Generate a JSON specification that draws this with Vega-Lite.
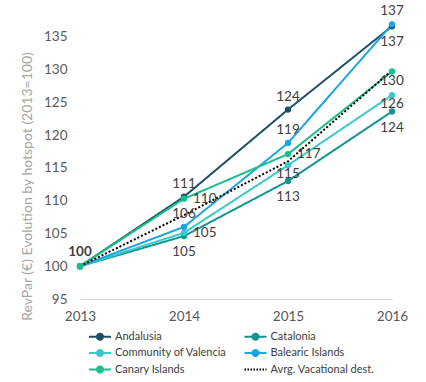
{
  "$schema": "https://vega.github.io/schema/vega-lite/v6.json",
  "width": 312,
  "height": 295,
  "autosize": {"type": "none"},
  "padding": {"left": 80, "top": 4, "right": 34, "bottom": 83},
  "background": "white",
  "config": {
    "font": "Lato",
    "view": {"stroke": null},
    "axis": {"grid": false, "ticks": false, "labelFont": "Lato", "labelColor": "#595959", "labelFontSize": 13.5}
  },
  "data": {
    "values": [
      {"series": "Andalusia", "year": 2013, "value": 100},
      {"series": "Andalusia", "year": 2014, "value": 110.6},
      {"series": "Andalusia", "year": 2015, "value": 123.9},
      {"series": "Andalusia", "year": 2016, "value": 136.6},
      {"series": "Catalonia", "year": 2013, "value": 100},
      {"series": "Catalonia", "year": 2014, "value": 104.6},
      {"series": "Catalonia", "year": 2015, "value": 113.0},
      {"series": "Catalonia", "year": 2016, "value": 123.6},
      {"series": "Community of Valencia", "year": 2013, "value": 100},
      {"series": "Community of Valencia", "year": 2014, "value": 105.1},
      {"series": "Community of Valencia", "year": 2015, "value": 115.4},
      {"series": "Community of Valencia", "year": 2016, "value": 126.1},
      {"series": "Balearic Islands", "year": 2013, "value": 100},
      {"series": "Balearic Islands", "year": 2014, "value": 106.0},
      {"series": "Balearic Islands", "year": 2015, "value": 118.8},
      {"series": "Balearic Islands", "year": 2016, "value": 136.9},
      {"series": "Canary Islands", "year": 2013, "value": 100},
      {"series": "Canary Islands", "year": 2014, "value": 110.3},
      {"series": "Canary Islands", "year": 2015, "value": 117.1},
      {"series": "Canary Islands", "year": 2016, "value": 129.7},
      {"series": "Avrg. Vacational dest.", "year": 2013, "value": 100},
      {"series": "Avrg. Vacational dest.", "year": 2014, "value": 107.8},
      {"series": "Avrg. Vacational dest.", "year": 2015, "value": 116.0},
      {"series": "Avrg. Vacational dest.", "year": 2016, "value": 129.9}
    ]
  },
  "encoding": {
    "x": {
      "field": "year", "type": "quantitative",
      "scale": {"domain": [2013, 2016], "nice": false, "zero": false},
      "axis": {"values": [2013, 2014, 2015, 2016], "format": "d", "title": null, "domain": true, "domainColor": "#d9d9d9", "domainWidth": 1, "labelPadding": 10, "labelFlush": false}
    },
    "y": {
      "field": "value", "type": "quantitative",
      "scale": {"domain": [95, 140], "nice": false, "zero": false},
      "axis": {"values": [95, 100, 105, 110, 115, 120, 125, 130, 135], "domain": false, "labelPadding": 13,
        "title": "RevPar (€) Evolution by hotspot (2013=100)",
        "titleFont": "Lato", "titleFontWeight": "normal", "titleFontSize": 14, "titleColor": "#a6a6a6",
        "titleX": -53, "titleY": 182, "titleAlign": "center", "titleBaseline": "middle", "titleAngle": 270}
    }
  },
  "layer": [
    {
      "mark": {"type": "line", "strokeWidth": 2},
      "encoding": {
        "color": {
          "field": "series", "type": "nominal",
          "scale": {
            "domain": ["Andalusia", "Community of Valencia", "Canary Islands", "Catalonia", "Balearic Islands", "Avrg. Vacational dest."],
            "range": ["#1b4f64", "#38c9cb", "#16c08b", "#12958f", "#1aa6e0", "#000000"]
          },
          "legend": {
            "title": null, "orient": "none", "legendX": 13.5, "legendY": 326,
            "columns": 2, "columnPadding": 12.5, "rowPadding": 1.5,
            "labelFont": "Lato", "labelFontSize": 11, "labelColor": "#404040", "labelOffset": 8.5,
            "symbolSize": 121, "symbolStrokeWidth": 2,
            "symbolType": "M-2,0H2M0.55,0A0.55,0.55,0,1,1,-0.55,0A0.55,0.55,0,1,1,0.55,0",
            "encode": {
              "symbols": {
                "update": {
                  "stroke": {"scale": "color", "field": "value"},
                  "fill": {"signal": "datum.value === 'Avrg. Vacational dest.' ? 'transparent' : scale('color', datum.value)"},
                  "shape": {"signal": "datum.value === 'Avrg. Vacational dest.' ? 'M-2,0H2' : 'M-2,0H2M0.55,0A0.55,0.55,0,1,1,-0.55,0A0.55,0.55,0,1,1,0.55,0'"},
                  "strokeDash": {"signal": "datum.value === 'Avrg. Vacational dest.' ? [1.5,1.5] : [1,0]"}
                }
              }
            }
          }
        },
        "strokeDash": {"condition": {"test": "datum.series === 'Avrg. Vacational dest.'", "value": [2, 2]}, "value": [1, 0]}
      }
    },
    {
      "transform": [{"filter": "datum.series !== 'Avrg. Vacational dest.'"}],
      "mark": {"type": "circle", "size": 40, "opacity": 1},
      "encoding": {"color": {"field": "series", "type": "nominal", "legend": null}}
    },
    {
      "transform": [{"filter": "datum.year === 2013 && datum.series === 'Andalusia'"}],
      "mark": {"type": "text", "dy": -14, "fontSize": 13.5, "fontWeight": "bold", "color": "#404040", "font": "Lato"},
      "encoding": {"text": {"field": "value", "type": "quantitative", "format": ".0f"}}
    },
    {
      "transform": [{"filter": "indexof(['Andalusia|2014','Andalusia|2015','Balearic Islands|2014','Balearic Islands|2015','Balearic Islands|2016'], datum.series + '|' + datum.year) >= 0"}],
      "mark": {"type": "text", "dy": -13, "fontSize": 13.5, "color": "#404040", "font": "Lato"},
      "encoding": {"text": {"field": "value", "type": "quantitative", "format": ".0f"}}
    },
    {
      "transform": [{"filter": "indexof(['Catalonia|2014','Catalonia|2015','Andalusia|2016','Catalonia|2016'], datum.series + '|' + datum.year) >= 0"}],
      "mark": {"type": "text", "dy": 16, "fontSize": 13.5, "color": "#404040", "font": "Lato"},
      "encoding": {"text": {"field": "value", "type": "quantitative", "format": ".0f"}}
    },
    {
      "transform": [{"filter": "indexof(['Community of Valencia|2015','Community of Valencia|2016','Canary Islands|2016'], datum.series + '|' + datum.year) >= 0"}],
      "mark": {"type": "text", "dy": 9, "fontSize": 13.5, "color": "#404040", "font": "Lato"},
      "encoding": {"text": {"field": "value", "type": "quantitative", "format": ".0f"}}
    },
    {
      "transform": [{"filter": "indexof(['Canary Islands|2014','Community of Valencia|2014','Canary Islands|2015'], datum.series + '|' + datum.year) >= 0"}],
      "mark": {"type": "text", "align": "left", "dx": 9, "dy": 0, "fontSize": 13.5, "color": "#404040", "font": "Lato"},
      "encoding": {"text": {"field": "value", "type": "quantitative", "format": ".0f"}}
    }
  ]
}
